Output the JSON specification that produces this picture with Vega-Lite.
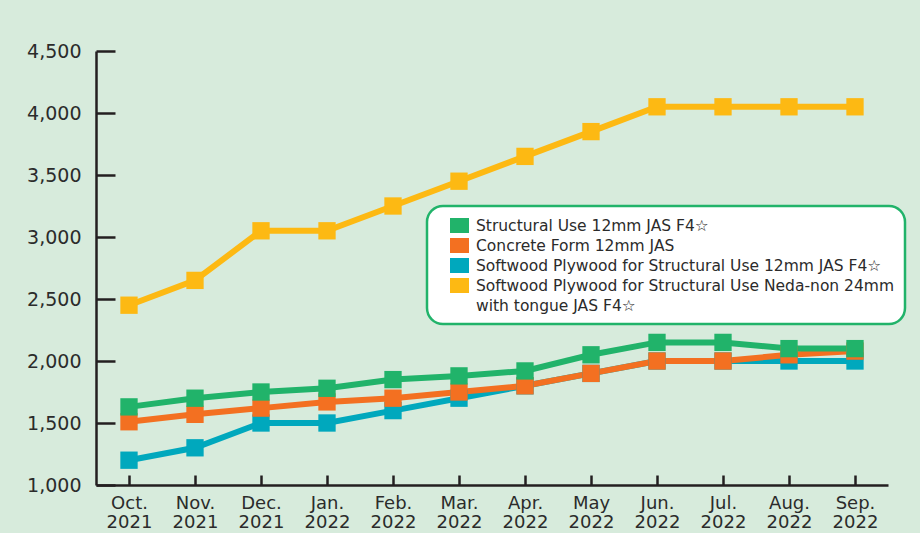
{
  "$schema": "https://vega.github.io/schema/vega-lite/v6.json",
  "width": 792,
  "height": 434,
  "autosize": {"type": "none"},
  "padding": {"left": 96, "top": 51, "right": 32, "bottom": 48},
  "background": "#d7ebdc",
  "config": {
    "view": {"stroke": null},
    "font": "DejaVu Sans"
  },
  "datasets": {
    "prices": [
      {"month": "Oct. 2021", "series": "Softwood Plywood for Structural Use Neda-non 24mm with tongue JAS F4☆", "price": 2450},
      {"month": "Nov. 2021", "series": "Softwood Plywood for Structural Use Neda-non 24mm with tongue JAS F4☆", "price": 2650},
      {"month": "Dec. 2021", "series": "Softwood Plywood for Structural Use Neda-non 24mm with tongue JAS F4☆", "price": 3050},
      {"month": "Jan. 2022", "series": "Softwood Plywood for Structural Use Neda-non 24mm with tongue JAS F4☆", "price": 3050},
      {"month": "Feb. 2022", "series": "Softwood Plywood for Structural Use Neda-non 24mm with tongue JAS F4☆", "price": 3250},
      {"month": "Mar. 2022", "series": "Softwood Plywood for Structural Use Neda-non 24mm with tongue JAS F4☆", "price": 3450},
      {"month": "Apr. 2022", "series": "Softwood Plywood for Structural Use Neda-non 24mm with tongue JAS F4☆", "price": 3650},
      {"month": "May 2022", "series": "Softwood Plywood for Structural Use Neda-non 24mm with tongue JAS F4☆", "price": 3850},
      {"month": "Jun. 2022", "series": "Softwood Plywood for Structural Use Neda-non 24mm with tongue JAS F4☆", "price": 4050},
      {"month": "Jul. 2022", "series": "Softwood Plywood for Structural Use Neda-non 24mm with tongue JAS F4☆", "price": 4050},
      {"month": "Aug. 2022", "series": "Softwood Plywood for Structural Use Neda-non 24mm with tongue JAS F4☆", "price": 4050},
      {"month": "Sep. 2022", "series": "Softwood Plywood for Structural Use Neda-non 24mm with tongue JAS F4☆", "price": 4050},
      {"month": "Oct. 2021", "series": "Softwood Plywood for Structural Use 12mm JAS F4☆", "price": 1200},
      {"month": "Nov. 2021", "series": "Softwood Plywood for Structural Use 12mm JAS F4☆", "price": 1300},
      {"month": "Dec. 2021", "series": "Softwood Plywood for Structural Use 12mm JAS F4☆", "price": 1500},
      {"month": "Jan. 2022", "series": "Softwood Plywood for Structural Use 12mm JAS F4☆", "price": 1500},
      {"month": "Feb. 2022", "series": "Softwood Plywood for Structural Use 12mm JAS F4☆", "price": 1600},
      {"month": "Mar. 2022", "series": "Softwood Plywood for Structural Use 12mm JAS F4☆", "price": 1700},
      {"month": "Apr. 2022", "series": "Softwood Plywood for Structural Use 12mm JAS F4☆", "price": 1800},
      {"month": "May 2022", "series": "Softwood Plywood for Structural Use 12mm JAS F4☆", "price": 1900},
      {"month": "Jun. 2022", "series": "Softwood Plywood for Structural Use 12mm JAS F4☆", "price": 2000},
      {"month": "Jul. 2022", "series": "Softwood Plywood for Structural Use 12mm JAS F4☆", "price": 2000},
      {"month": "Aug. 2022", "series": "Softwood Plywood for Structural Use 12mm JAS F4☆", "price": 2000},
      {"month": "Sep. 2022", "series": "Softwood Plywood for Structural Use 12mm JAS F4☆", "price": 2000},
      {"month": "Oct. 2021", "series": "Concrete Form 12mm JAS", "price": 1510},
      {"month": "Nov. 2021", "series": "Concrete Form 12mm JAS", "price": 1570},
      {"month": "Dec. 2021", "series": "Concrete Form 12mm JAS", "price": 1620},
      {"month": "Jan. 2022", "series": "Concrete Form 12mm JAS", "price": 1670},
      {"month": "Feb. 2022", "series": "Concrete Form 12mm JAS", "price": 1700},
      {"month": "Mar. 2022", "series": "Concrete Form 12mm JAS", "price": 1750},
      {"month": "Apr. 2022", "series": "Concrete Form 12mm JAS", "price": 1800},
      {"month": "May 2022", "series": "Concrete Form 12mm JAS", "price": 1900},
      {"month": "Jun. 2022", "series": "Concrete Form 12mm JAS", "price": 2000},
      {"month": "Jul. 2022", "series": "Concrete Form 12mm JAS", "price": 2000},
      {"month": "Aug. 2022", "series": "Concrete Form 12mm JAS", "price": 2050},
      {"month": "Sep. 2022", "series": "Concrete Form 12mm JAS", "price": 2080},
      {"month": "Oct. 2021", "series": "Structural Use 12mm JAS F4☆", "price": 1630},
      {"month": "Nov. 2021", "series": "Structural Use 12mm JAS F4☆", "price": 1700},
      {"month": "Dec. 2021", "series": "Structural Use 12mm JAS F4☆", "price": 1750},
      {"month": "Jan. 2022", "series": "Structural Use 12mm JAS F4☆", "price": 1780},
      {"month": "Feb. 2022", "series": "Structural Use 12mm JAS F4☆", "price": 1850},
      {"month": "Mar. 2022", "series": "Structural Use 12mm JAS F4☆", "price": 1880},
      {"month": "Apr. 2022", "series": "Structural Use 12mm JAS F4☆", "price": 1920},
      {"month": "May 2022", "series": "Structural Use 12mm JAS F4☆", "price": 2050},
      {"month": "Jun. 2022", "series": "Structural Use 12mm JAS F4☆", "price": 2150},
      {"month": "Jul. 2022", "series": "Structural Use 12mm JAS F4☆", "price": 2150},
      {"month": "Aug. 2022", "series": "Structural Use 12mm JAS F4☆", "price": 2100},
      {"month": "Sep. 2022", "series": "Structural Use 12mm JAS F4☆", "price": 2100}
    ]
  },
  "data": {"name": "prices"},
  "encoding": {
    "x": {
      "field": "month",
      "type": "ordinal",
      "sort": null,
      "scale": {"type": "point", "padding": 0.5},
      "axis": {
        "title": null,
        "labelAngle": 0,
        "labelExpr": "split(datum.label, ' ')",
        "labelFont": "DejaVu Sans",
        "labelFontSize": 18,
        "labelLineHeight": 19,
        "labelColor": "#2b2b2b",
        "labelPadding": 19,
        "tickSize": -10,
        "tickWidth": 2.5,
        "tickColor": "#231f20",
        "domainColor": "#231f20",
        "domainWidth": 2.5,
        "grid": false
      }
    },
    "y": {
      "field": "price",
      "type": "quantitative",
      "scale": {"domain": [1000, 4500], "nice": false, "zero": false},
      "axis": {
        "title": null,
        "values": [1000, 1500, 2000, 2500, 3000, 3500, 4000, 4500],
        "format": ",d",
        "labelFont": "DejaVu Sans",
        "labelFontSize": 19,
        "labelColor": "#2b2b2b",
        "labelPadding": 34,
        "tickSize": -19,
        "tickWidth": 2.5,
        "tickColor": "#231f20",
        "domainColor": "#231f20",
        "domainWidth": 2.5,
        "grid": false
      }
    },
    "color": {
      "field": "series",
      "type": "nominal",
      "scale": {
        "domain": [
          "Structural Use 12mm JAS F4☆",
          "Concrete Form 12mm JAS",
          "Softwood Plywood for Structural Use 12mm JAS F4☆",
          "Softwood Plywood for Structural Use Neda-non 24mm with tongue JAS F4☆"
        ],
        "range": ["#21b36a", "#f37021", "#00a8bd", "#fdb913"]
      },
      "legend": {
        "title": null,
        "orient": "none",
        "legendX": 331,
        "legendY": 155,
        "direction": "vertical",
        "fillColor": "#ffffff",
        "strokeColor": "#21b36a",
        "cornerRadius": 16,
        "padding": 10,
        "symbolType": "M-1,-0.79H1V0.79H-1Z",
        "symbolSize": 361,
        "symbolStrokeWidth": 0,
        "symbolOpacity": 1,
        "symbolOffset": 13,
        "labelFont": "DejaVu Sans",
        "labelFontSize": 15.5,
        "labelColor": "#2b2b2b",
        "labelBaseline": "alphabetic",
        "labelOffset": 7,
        "labelLimit": 500,
        "rowPadding": 2,
        "labelExpr": "indexof(datum.label, 'Neda') > 0 ? ['Softwood Plywood for Structural Use Neda-non 24mm', 'with tongue JAS F4☆'] : datum.label",
        "encode": {
          "labels": {"update": {"dy": {"value": 5}, "lineHeight": {"value": 20}}},
          "legend": {"update": {"strokeWidth": {"value": 2.5}}}
        }
      }
    }
  },
  "layer": [
    {"mark": {"type": "line", "strokeWidth": 6}},
    {"mark": {"type": "point", "shape": "square", "filled": true, "opacity": 1, "size": 300}}
  ]
}
